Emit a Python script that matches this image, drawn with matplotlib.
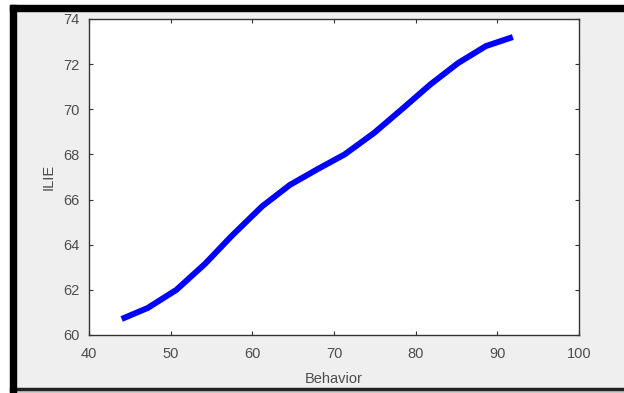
import matplotlib.pyplot as plt
from matplotlib.patches import Rectangle

behavior = [44.0, 47.2, 50.7, 54.2, 57.5, 61.2, 64.6, 68.0, 71.3, 74.9, 78.3, 81.8, 85.2, 88.6, 91.9]
ilie = [60.71, 61.2, 62.0, 63.15, 64.4, 65.7, 66.65, 67.35, 68.0, 68.95, 70.0, 71.1, 72.05, 72.8, 73.2]

x_ticks = [40, 50, 60, 70, 80, 90, 100]
y_ticks = [60, 62, 64, 66, 68, 70, 72, 74]

W, H = 624, 393
fig = plt.figure(figsize=(W / 100, H / 100), dpi=100, facecolor="white")
plt.rcParams["font.family"] = ["Liberation Sans", "DejaVu Sans"]


def px(x0, y0, x1, y1):
    # pixel box (top-left origin) -> figure fraction rect
    return (x0 / W, 1 - y1 / H), (x1 - x0) / W, (y1 - y0) / H


# window frame, drawn behind the axes
for box, color in [
    ((10, 5, W, H), "#efefef"),
    ((10, 388, W, H), "#c8c8c8"),
    ((10, 388, W, 390), "#222222"),
    ((10, 5, W, 11), "black"),
    ((10, 5, 16, H), "black"),
]:
    xy, w, h = px(*box)
    fig.patches.append(Rectangle(xy, w, h, transform=fig.transFigure, color=color, zorder=-5))

ax = fig.add_axes([89 / W, 1 - 335 / H, (579 - 89) / W, (335 - 19) / H])
ax.set_facecolor("white")
ax.plot(behavior, ilie, color="#0000ff", linewidth=4.3, solid_capstyle="butt")

ax.set_xlim(40, 100)
ax.set_ylim(60, 74)
ax.set_xticks(x_ticks)
ax.set_yticks(y_ticks)
ax.tick_params(direction="in", length=3, width=0.8, color="#333333",
               labelsize=10.5, labelcolor="#4d4d4d", top=True, right=True)
ax.tick_params(axis="x", pad=8.5)
ax.tick_params(axis="y", pad=6.5)
for s in ax.spines.values():
    s.set_color("#333333")
    s.set_linewidth(1.0)

ax.set_xlabel("Behavior", fontsize=10.5, color="#4d4d4d", labelpad=8)
ax.set_ylabel("ILIE", fontsize=10.5, color="#4d4d4d", labelpad=6)

fig.savefig("out.png", dpi=100, facecolor=fig.get_facecolor())
